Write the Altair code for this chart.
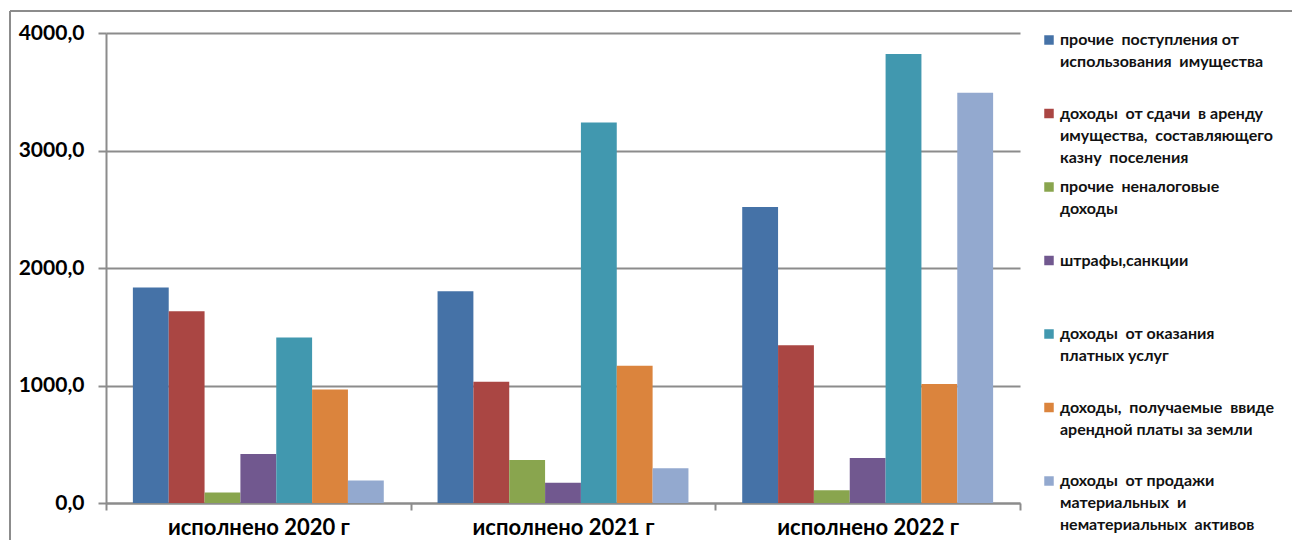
import altair as alt
import pandas as pd

years = ["исполнено 2020 г", "исполнено 2021 г", "исполнено 2022 г"]

legend_lines = [
    ["прочие  поступления от", "использования  имущества"],
    ["доходы  от сдачи  в аренду", "имущества,  составляющего", "казну  поселения"],
    ["прочие  неналоговые", "доходы"],
    ["штрафы,санкции"],
    ["доходы  от оказания", "платных услуг"],
    ["доходы,  получаемые  ввиде", "арендной платы за земли"],
    ["доходы  от продажи", "материальных  и", "нематериальных  активов"],
]
series = [" ".join(" ".join(l).split()) for l in legend_lines]

colors = ["#4572A7", "#AA4643", "#89A54E", "#71588F", "#4198AF", "#DB843D", "#93A9CF"]

s1 = [1833, 1803, 2520]
s2 = [1632, 1031, 1342]
s3 = [90, 365, 108]
s4 = [416, 173, 383]
s5 = [1408, 3238, 3821]
s6 = [966, 1169, 1013]
s7 = [191, 296, 3492]
values = [s1, s2, s3, s4, s5, s6, s7]

y_ticks = [0, 1000, 2000, 3000, 4000]

rows = []
for s, vals in zip(series, values):
    for yr, v in zip(years, vals):
        rows.append({"year": yr, "series": s, "value": v})
df = pd.DataFrame(rows)

leg_rows = []
for i, (s, lines) in enumerate(zip(series, legend_lines)):
    for j, t in enumerate(lines):
        # keep the wide double spacing of the original rendering
        leg_rows.append({"series": s, "i": i, "j": j, "text": t.replace("  ", "\u00a0 ")})
leg = pd.DataFrame(leg_rows)

FONT = "Lato"
GREY = "#8c8c8c"

color = alt.Color("series:N", scale=alt.Scale(domain=series, range=colors), legend=None)

bars = alt.Chart(df).mark_bar().encode(
    x=alt.X(
        "year:N", sort=years, title=None,
        scale=alt.Scale(paddingInner=0, paddingOuter=0),
        axis=alt.Axis(labelAngle=0, tickBand="extent", tickSize=7, tickColor=GREY, tickWidth=2,
                      domainColor=GREY, domainWidth=2, labelFont=FONT, labelFontSize=22,
                      labelFontWeight="bold", labelColor="black", labelPadding=7, grid=False,
                      labelLimit=400),
    ),
    xOffset=alt.XOffset("series:N", sort=series, scale=alt.Scale(paddingInner=0, paddingOuter=0.75)),
    y=alt.Y(
        "value:Q", title=None, scale=alt.Scale(domain=[0, 4000], nice=False),
        axis=alt.Axis(values=y_ticks, labelExpr="replace(format(datum.value, '.1f'), '.', ',')",
                      gridColor=GREY, gridWidth=2, domainColor=GREY, domainWidth=2,
                      tickColor=GREY, tickWidth=2, tickSize=8, labelFont=FONT, labelFontSize=21,
                      labelFontWeight="bold", labelColor="black", labelPadding=14),
    ),
    color=color,
)

pos_scale = alt.Scale(domain=[-7 / 73.5, 463 / 73.5], reverse=True, nice=False, zero=False)

leg_base = alt.Chart(leg).transform_calculate(pos="datum.i + datum.j * 22 / 73.5")

swatches = leg_base.transform_filter("datum.j == 0").mark_square(size=90, opacity=1).encode(
    x=alt.value(943),
    y=alt.Y("pos:Q", scale=pos_scale, axis=None),
    color=color,
)

labels = leg_base.mark_text(align="left", baseline="middle", font=FONT, fontSize=16,
                            fontWeight="bold", color="#111111").encode(
    x=alt.value(954),
    y=alt.Y("pos:Q", scale=pos_scale, axis=None),
    text="text:N",
)

frame_top = alt.Chart(df).mark_rule(color=GREY, strokeWidth=2).encode(
    x=alt.value(-96), x2=alt.value(1186), y=alt.value(-22), y2=alt.value(-22)
)
frame_left = alt.Chart(df).mark_rule(color=GREY, strokeWidth=2).encode(
    x=alt.value(-96), x2=alt.value(-96), y=alt.value(-22), y2=alt.value(508)
)

chart = alt.layer(frame_top, frame_left, bars, swatches, labels).resolve_scale(
    y="independent"
).properties(
    width=914, height=470,
    autosize=alt.AutoSizeParams(type="none"),
    padding={"left": 98, "top": 25, "right": 272, "bottom": 37},
).configure_view(stroke="transparent")

chart.save("out.html", embed_options={"renderer": "svg", "actions": False})
